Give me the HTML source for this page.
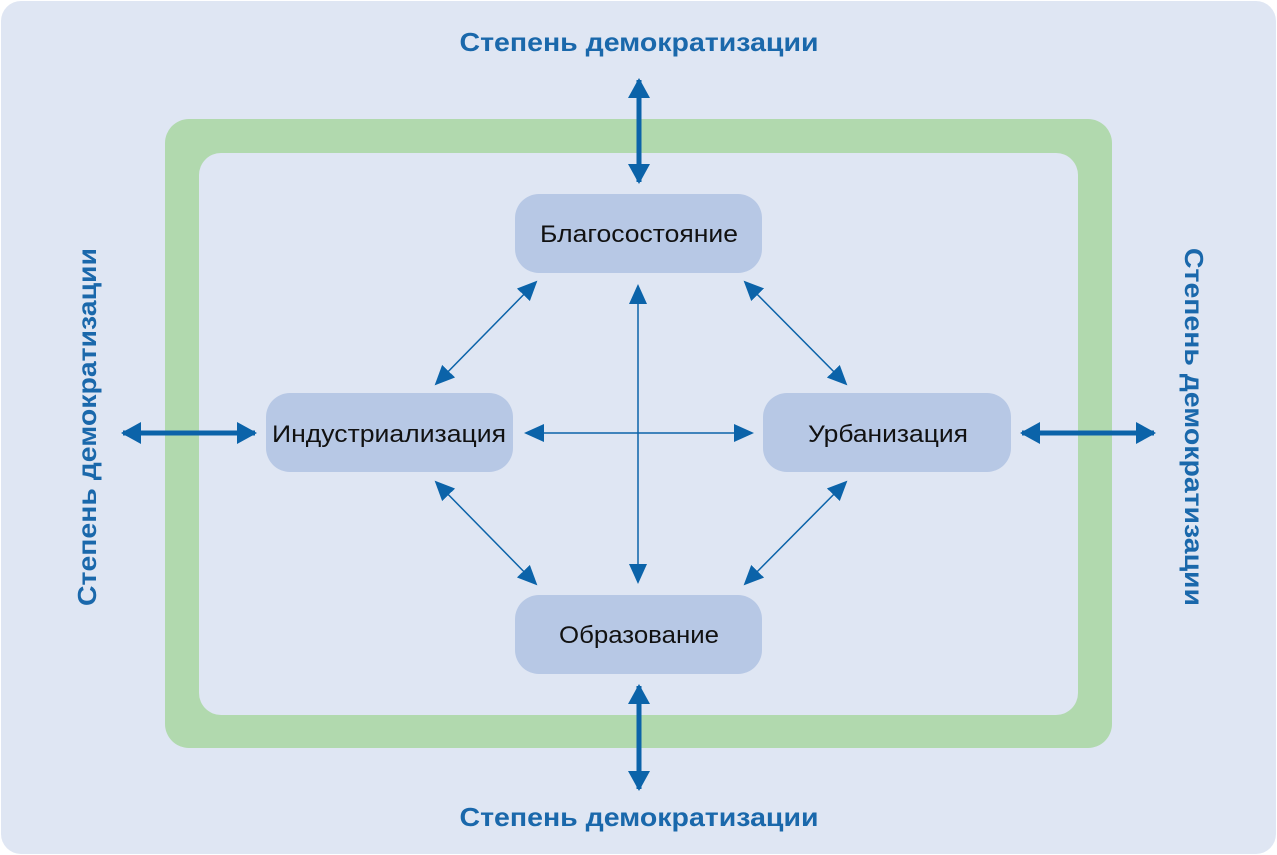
<!DOCTYPE html><html><head><meta charset="utf-8"><style>body{margin:0;background:#fff}svg{display:block}</style></head><body>
<svg width="1277" height="855" xmlns="http://www.w3.org/2000/svg" font-family="Liberation Sans, DejaVu Sans, sans-serif">
<defs>
<marker id="t" viewBox="0 0 10 10" refX="9" refY="5" markerWidth="20" markerHeight="18" orient="auto-start-reverse" markerUnits="userSpaceOnUse" preserveAspectRatio="none"><path d="M0,0 L10,5 L0,10z" fill="#0b63a9"/></marker>
<marker id="T" viewBox="0 0 10 10" refX="9" refY="5" markerWidth="20" markerHeight="22" orient="auto-start-reverse" markerUnits="userSpaceOnUse" preserveAspectRatio="none"><path d="M0,0 L10,5 L0,10z" fill="#0b63a9"/></marker>
</defs>
<rect x="1" y="1" width="1275" height="853" rx="20" fill="#dfe6f3"/>
<rect x="165" y="119" width="947" height="629" rx="24" fill="#b1d9ae"/>
<rect x="199" y="153" width="879" height="562" rx="22" fill="#dfe6f3"/>
<g fill="#b7c8e5">
<rect x="515" y="194" width="247" height="79" rx="24"/>
<rect x="266" y="393" width="247" height="79" rx="24"/>
<rect x="763" y="393" width="248" height="79" rx="24"/>
<rect x="515" y="595" width="247" height="79" rx="24"/>
</g>
<g font-size="24" fill="#111" text-anchor="middle">
<text x="639" y="242" textLength="198" lengthAdjust="spacingAndGlyphs">Благосостояние</text>
<text x="389" y="442" textLength="234" lengthAdjust="spacingAndGlyphs">Индустриализация</text>
<text x="888" y="442" textLength="160" lengthAdjust="spacingAndGlyphs">Урбанизация</text>
<text x="639" y="643" textLength="160" lengthAdjust="spacingAndGlyphs">Образование</text>
</g>
<g stroke="#0b63a9" stroke-width="1.5" fill="none" marker-start="url(#t)" marker-end="url(#t)">
<line x1="638" y1="286" x2="638" y2="582"/>
<line x1="526" y1="433" x2="752" y2="433"/>
<line x1="536" y1="282" x2="436" y2="384"/>
<line x1="745" y1="282" x2="846" y2="384"/>
<line x1="436" y1="482" x2="536" y2="584"/>
<line x1="846" y1="482" x2="745" y2="584"/>
</g>
<g stroke="#0b63a9" stroke-width="5" fill="none" marker-start="url(#T)" marker-end="url(#T)">
<line x1="639" y1="80" x2="639" y2="182"/>
<line x1="639" y1="686" x2="639" y2="789"/>
<line x1="123" y1="433" x2="255" y2="433"/>
<line x1="1022" y1="433" x2="1154" y2="433"/>
</g>
<g font-size="26" font-weight="bold" fill="#1a68ab" text-anchor="middle">
<text x="639" y="51" textLength="359" lengthAdjust="spacingAndGlyphs">Степень демократизации</text>
<text x="639" y="826" textLength="359" lengthAdjust="spacingAndGlyphs">Степень демократизации</text>
<text transform="translate(96,427) rotate(-90)" textLength="358" lengthAdjust="spacingAndGlyphs">Степень демократизации</text>
<text transform="translate(1185,427) rotate(90)" textLength="358" lengthAdjust="spacingAndGlyphs">Степень демократизации</text>
</g>
</svg></body></html>
